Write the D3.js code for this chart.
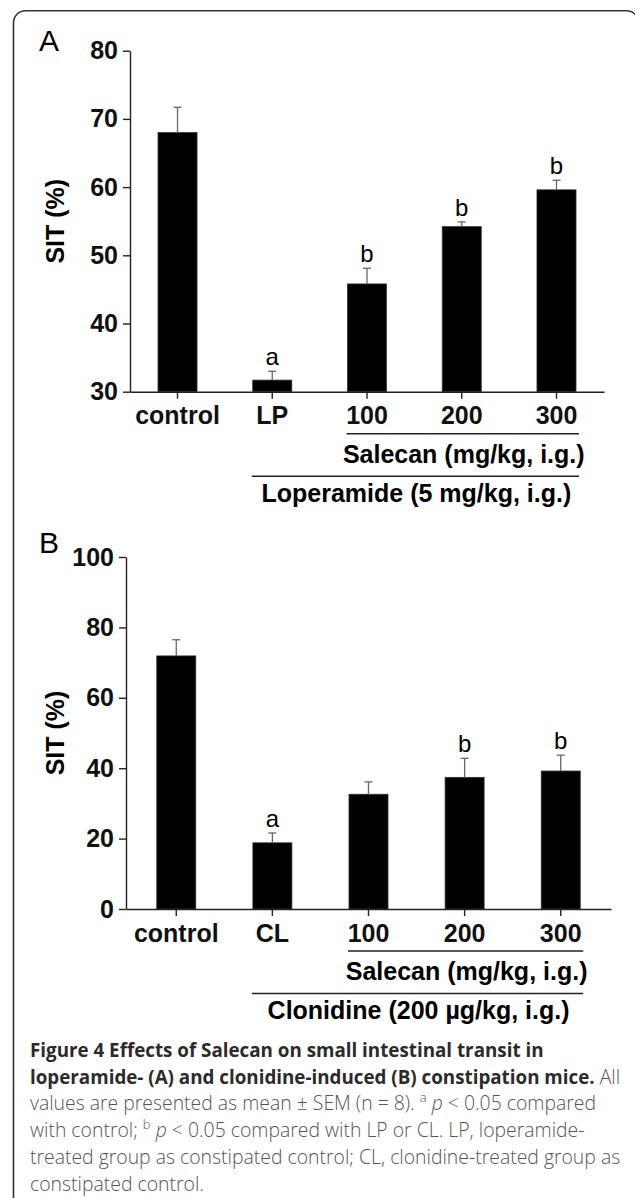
<!DOCTYPE html>
<html>
<head>
<meta charset="utf-8">
<script src="https://cdn.jsdelivr.net/npm/d3@7"></script>
<style>
  body { margin: 0; background: #fff; }
  .axis path, .axis line { stroke: #222; stroke-width: 1.4px; }
  .axis text { font-family: "Liberation Sans", Arial, sans-serif; font-weight: bold; font-size: 25px; fill: #111; }
  .caption { font-family: "Open Sans", sans-serif; font-size: 19.4px; }
</style>
</head>
<body>
<div id="chart"></div>
<script>
// Panel A: loperamide model
var groupsA = ["control", "LP", "100", "200", "300"];
var meanA = [68.0, 31.7, 45.8, 54.2, 59.6];
var semA = [3.7, 1.3, 2.3, 0.7, 1.4];
var sigA = ["", "a", "b", "b", "b"];
var ticksA = [30, 40, 50, 60, 70, 80];

// Panel B: clonidine model
var groupsB = ["control", "CL", "100", "200", "300"];
var meanB = [71.9, 18.8, 32.6, 37.4, 39.2];
var semB = [4.6, 2.8, 3.5, 5.4, 4.5];
var sigB = ["", "a", "", "b", "b"];
var ticksB = [0, 20, 40, 60, 80, 100];

var width = 635, height = 1198;

var svg = d3.select("#chart")
    .append("svg")
    .attr("width", width)
    .attr("height", height);

// rounded frame that runs off the bottom and right of the picture
svg.append("rect")
    .attr("x", 13.5).attr("y", 10.7)
    .attr("width", 625).attr("height", 1260)
    .attr("rx", 12).attr("ry", 12)
    .attr("fill", "none")
    .attr("stroke", "#333")
    .attr("stroke-width", 1.6);

function drawPanel(opt) {
    var x = d3.scaleBand()
        .domain(opt.groups)
        .range(opt.xRange)
        .paddingInner(opt.padIn)
        .paddingOuter(opt.padOut);

    var y = d3.scaleLinear()
        .domain(opt.domain)
        .range(opt.yRange);

    var g = svg.append("g");

    // panel letter
    g.append("text")
        .attr("x", 39).attr("y", opt.letterY)
        .style("font-family", "Liberation Sans, Arial, sans-serif")
        .style("font-size", "30px")
        .text(opt.letter);

    // y axis
    g.append("g")
        .attr("class", "axis")
        .attr("transform", "translate(" + opt.xRange[0] + ",0)")
        .call(d3.axisLeft(y).tickValues(opt.ticks).tickSize(7).tickPadding(5).tickSizeOuter(0));

    // y label
    g.append("text")
        .attr("transform", "translate(64," + (opt.yRange[0] + opt.yRange[1]) / 2 + ") rotate(-90)")
        .attr("text-anchor", "middle")
        .style("font-family", "Liberation Sans, Arial, sans-serif")
        .style("font-weight", "bold")
        .style("font-size", "25px")
        .text("SIT (%)");

    // bars
    g.selectAll(".bar")
        .data(opt.groups)
        .enter()
        .append("rect")
        .attr("x", function (d) { return x(d); })
        .attr("y", function (d, i) { return y(opt.mean[i]); })
        .attr("width", x.bandwidth())
        .attr("height", function (d, i) { return y(opt.domain[0]) - y(opt.mean[i]); })
        .attr("fill", "#000")
        .attr("stroke", "#333")
        .attr("stroke-width", 0.8);

    // error bars (upper half only)
    var cx = function (d) { return x(d) + x.bandwidth() / 2; };
    g.selectAll(".err")
        .data(opt.groups)
        .enter()
        .append("line")
        .attr("x1", cx).attr("x2", cx)
        .attr("y1", function (d, i) { return y(opt.mean[i]); })
        .attr("y2", function (d, i) { return y(opt.mean[i] + opt.sem[i]); })
        .attr("stroke", "#666").attr("stroke-width", 1.3);

    g.selectAll(".cap")
        .data(opt.groups)
        .enter()
        .append("line")
        .attr("x1", function (d) { return cx(d) - 4; })
        .attr("x2", function (d) { return cx(d) + 4; })
        .attr("y1", function (d, i) { return y(opt.mean[i] + opt.sem[i]); })
        .attr("y2", function (d, i) { return y(opt.mean[i] + opt.sem[i]); })
        .attr("stroke", "#666").attr("stroke-width", 1.3);

    // significance letters
    g.selectAll(".sig")
        .data(opt.groups)
        .enter()
        .append("text")
        .attr("x", cx)
        .attr("y", function (d, i) { return y(opt.mean[i] + opt.sem[i]) - 6; })
        .attr("text-anchor", "middle")
        .style("font-family", "Liberation Sans, Arial, sans-serif")
        .style("font-size", "24px")
        .text(function (d, i) { return opt.sig[i]; });

    // x axis
    g.append("g")
        .attr("class", "axis")
        .attr("transform", "translate(0," + opt.yRange[0] + ")")
        .call(d3.axisBottom(x).tickSize(7).tickPadding(8).tickSizeOuter(0));

    // treatment brackets
    var base = opt.yRange[0];
    var left1 = x(opt.groups[2]) - 1, left2 = x(opt.groups[1]) - 1;
    var right = x(opt.groups[4]) + x.bandwidth() + 3;

    g.append("line")
        .attr("x1", left1).attr("x2", right)
        .attr("y1", base + 42).attr("y2", base + 42)
        .attr("stroke", "#222").attr("stroke-width", 1.6);
    g.append("text")
        .attr("x", (left1 + right) / 2 + 1).attr("y", base + 71)
        .attr("text-anchor", "middle")
        .style("font-family", "Liberation Sans, Arial, sans-serif")
        .style("font-weight", "bold")
        .style("font-size", "25px")
        .text("Salecan (mg/kg, i.g.)");

    g.append("line")
        .attr("x1", left2).attr("x2", right)
        .attr("y1", base + 84.5).attr("y2", base + 84.5)
        .attr("stroke", "#222").attr("stroke-width", 1.6);
    g.append("text")
        .attr("x", (left2 + right) / 2 + 1).attr("y", base + 110)
        .attr("text-anchor", "middle")
        .style("font-family", "Liberation Sans, Arial, sans-serif")
        .style("font-weight", "bold")
        .style("font-size", "25px")
        .text(opt.drug);
}

drawPanel({
    letter: "A", letterY: 51,
    groups: groupsA, mean: meanA, sem: semA, sig: sigA, ticks: ticksA,
    domain: [30, 80], yRange: [391.7, 50.7],
    xRange: [130, 604], padIn: 0.588, padOut: 0.2955,
    drug: "Loperamide (5 mg/kg, i.g.)"
});

drawPanel({
    letter: "B", letterY: 553,
    groups: groupsB, mean: meanB, sem: semB, sig: sigB, ticks: ticksB,
    domain: [0, 100], yRange: [909, 557],
    xRange: [126, 611], padIn: 0.594, padOut: 0.32,
    drug: "Clonidine (200 \u00b5g/kg, i.g.)"
});

// caption
var bold = "#2b2b2b", light = "#555";
var captionLines = [
    [["Figure 4 Effects of Salecan on small intestinal transit in", "b"]],
    [["loperamide- (A) and clonidine-induced (B) constipation mice.", "b"], [" All", "n"]],
    [["values are presented as mean \u00b1 SEM (n = 8). ", "n"], ["a", "sup"], [" ", "n"], ["p", "i"], [" < 0.05 compared", "n"]],
    [["with control; ", "n"], ["b", "sup"], [" ", "n"], ["p", "i"], [" < 0.05 compared with LP or CL. LP, loperamide-", "n"]],
    [["treated group as constipated control; CL, clonidine-treated group as", "n"]],
    [["constipated control.", "n"]]
];

var cap = svg.append("text").attr("class", "caption");
captionLines.forEach(function (line, li) {
    line.forEach(function (part, pi) {
        var t = cap.append("tspan").text(part[0]);
        if (pi === 0) t.attr("x", 30).attr("y", 1056.7 + li * 26.8);
        if (part[1] === "b") t.style("font-weight", 700).style("fill", bold).style("font-size", "18.8px");
        else t.style("font-weight", 300).style("fill", light);
        if (part[1] === "i") t.style("font-style", "italic");
        if (part[1] === "sup") t.style("font-size", "13px").attr("dy", -8);
        if (pi > 0 && line[pi - 1][1] === "sup") t.attr("dy", 8);
    });
});
</script>
</body>
</html>
